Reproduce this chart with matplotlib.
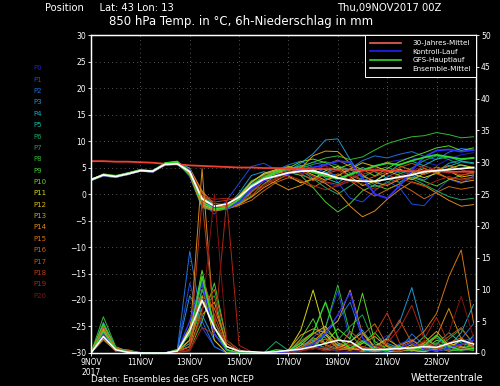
import matplotlib
matplotlib.use('Agg')
import matplotlib.pyplot as plt
from matplotlib.lines import Line2D
import numpy as np

# 12-hourly forecast steps, days after 09NOV2017 00Z
STEP_DAYS = 0.5
N_STEPS = 32

# 850 hPa temperature (degC), ensemble members P0..P20
temp_members = [
    [2.6, 3.4, 3.1, 3.9, 4.5, 4.1, 5.5, 5.9, 3.2, -2.6, -3.1, -2.7, -1.2, 1.2, 3.1, 3.9, 4.8, 4.2, 3.3, 2.2, 1.4, 2.6, 4.1, 5.3, 6.0, 6.4, 6.9, 6.1, 5.4, 6.6, 7.4, 7.8],
    [2.5, 3.7, 3.4, 3.6, 4.6, 4.0, 5.8, 6.0, 4.1, -1.6, -3.8, -1.2, 2.0, 5.2, 5.8, 4.6, 3.8, 5.1, 6.0, 5.4, 2.2, -0.8, -1.5, 0.6, 2.4, 1.2, -1.9, -2.2, 0.5, 2.8, 2.0, 3.4],
    [2.7, 3.5, 3.2, 3.8, 4.3, 4.4, 5.4, 5.6, 4.6, -0.5, -2.8, -2.2, -0.6, 2.1, 3.8, 4.5, 5.5, 6.2, 5.0, 4.1, 3.5, 4.8, 6.3, 7.2, 6.8, 7.5, 8.0, 7.1, 6.5, 7.9, 8.6, 8.3],
    [2.8, 3.6, 3.4, 4.0, 4.4, 4.2, 5.7, 5.5, 3.8, -1.9, -2.9, -2.4, 0.2, 3.5, 4.2, 3.6, 4.4, 5.8, 7.6, 10.2, 10.4, 6.5, 2.9, 1.8, 3.2, 4.4, 3.5, 2.6, 4.2, 5.8, 6.4, 6.9],
    [2.6, 3.5, 3.3, 3.9, 4.5, 4.3, 5.6, 5.8, 4.9, 0.2, -2.4, -2.5, -1.5, 0.8, 2.6, 3.4, 4.0, 3.6, 2.8, 3.9, 5.2, 4.6, 3.3, 2.5, 3.9, 5.6, 6.2, 5.3, 4.5, 5.2, 6.1, 5.7],
    [2.7, 3.7, 3.3, 3.7, 4.3, 4.5, 5.5, 5.7, 4.2, -1.2, -2.6, -2.9, -1.8, 0.5, 3.2, 4.1, 4.6, 5.4, 4.8, 3.0, 2.1, 3.8, 5.0, 4.2, 3.0, 2.2, 3.6, 5.4, 6.6, 7.0, 6.2, 5.9],
    [2.6, 3.6, 3.2, 3.8, 4.4, 4.2, 5.6, 5.9, 3.6, -2.2, -3.0, -2.6, -0.9, 1.8, 3.4, 4.3, 5.1, 4.5, 2.9, 1.2, 0.0, 1.5, 3.1, 4.4, 5.1, 4.0, 2.9, 1.8, 0.6, -0.5, -1.1, -0.8],
    [2.7, 3.5, 3.4, 3.9, 4.5, 4.3, 5.7, 5.6, 4.4, -0.8, -2.7, -2.3, -0.2, 2.5, 3.6, 3.1, 3.9, 4.8, 5.6, 6.1, 5.4, 4.0, 2.6, 1.3, 2.1, 3.8, 4.9, 6.3, 7.2, 6.5, 5.4, 4.8],
    [2.5, 3.4, 3.3, 3.8, 4.6, 4.4, 5.8, 6.1, 3.4, -2.5, -3.2, -2.8, -1.4, 1.0, 2.8, 4.0, 4.7, 5.2, 6.0, 6.8, 7.2, 6.5, 7.0, 8.3, 9.5, 10.2, 10.8, 11.0, 11.6, 11.2, 10.6, 10.8],
    [2.8, 3.6, 3.1, 3.7, 4.3, 4.1, 5.5, 5.8, 4.7, -0.3, -2.5, -2.7, -1.9, -0.4, 1.9, 3.5, 4.2, 3.5, 1.2, -1.5, -3.4, -1.8, 0.6, 1.7, 0.9, 1.9, 3.2, 2.4, 1.5, 2.7, 3.5, 4.1],
    [2.6, 3.8, 3.5, 4.0, 4.6, 4.3, 5.9, 6.2, 4.0, -1.4, -2.9, -2.5, -0.8, 1.6, 3.0, 3.8, 4.9, 6.1, 6.6, 5.9, 4.8, 5.6, 4.6, 3.4, 4.8, 6.1, 7.0, 7.8, 8.7, 9.1, 8.2, 8.7],
    [2.7, 3.6, 3.3, 3.8, 4.4, 4.2, 5.6, 5.7, 4.3, -1.0, -2.6, -2.4, -0.5, 2.2, 3.9, 4.6, 3.4, 2.1, 2.8, 4.4, 5.2, 3.3, 1.6, 2.4, 3.9, 4.7, 3.8, 3.1, 3.9, 4.8, 5.5, 5.0],
    [2.6, 3.5, 3.2, 3.9, 4.5, 4.3, 5.6, 5.8, 3.9, -2.0, -2.9, -2.2, -0.4, 2.3, 3.7, 4.4, 5.2, 4.7, 3.6, 2.6, 3.4, 4.7, 5.9, 5.2, 4.4, 3.5, 2.7, 3.9, 5.1, 4.3, 3.2, 3.6],
    [2.8, 3.7, 3.3, 3.7, 4.4, 4.4, 5.5, 5.6, 4.8, 0.6, -2.2, -2.6, -2.0, -0.6, 1.2, 2.5, 3.8, 4.9, 7.2, 8.1, 8.0, 5.8, 3.6, 2.2, 1.6, 2.8, 4.0, 4.8, 4.1, 2.9, 2.2, 2.6],
    [2.6, 3.6, 3.4, 3.8, 4.3, 4.2, 5.7, 5.9, 3.7, -2.3, -3.1, -2.9, -1.6, 0.9, 2.7, 2.0, 0.8, 1.6, 3.0, 2.0, 0.4, -2.3, -4.3, -3.2, -1.0, 0.8, 2.3, 1.6, 0.2, -1.2, -2.3, -2.0],
    [2.7, 3.5, 3.2, 3.9, 4.5, 4.3, 5.6, 5.7, 4.5, -0.6, -2.7, -2.8, -2.2, 0.3, 2.4, 3.7, 4.4, 5.0, 4.2, 5.5, 6.4, 5.2, 4.3, 5.1, 6.0, 5.3, 4.5, 3.7, 4.5, 5.4, 4.6, 4.0],
    [2.6, 3.4, 3.1, 3.8, 4.4, 4.1, 5.4, 5.6, 4.6, 0.4, -1.8, -2.0, -2.1, -1.2, 0.6, 2.2, 3.1, 2.4, 1.2, 2.6, 3.8, 2.5, 0.9, -0.4, 0.8, 1.9, 0.6, -0.9, 0.3, 1.4, 0.9, 1.3],
    [2.7, 3.6, 3.3, 3.8, 4.4, 4.3, 5.6, 5.7, 4.1, -1.3, -2.6, -2.4, -1.0, 1.5, 3.3, 4.2, 4.8, 3.9, 2.5, 3.8, 4.5, 3.6, 2.5, 3.3, 4.2, 5.0, 5.8, 4.9, 3.8, 3.0, 2.8, 3.2],
    [2.6, 3.5, 3.3, 3.9, 4.5, 4.2, 5.7, 5.8, 4.4, -0.4, -1.5, -1.2, -0.6, 0.4, 1.8, 3.0, 4.1, 4.4, 3.4, 2.3, 1.8, 2.9, 3.7, 4.3, 3.6, 2.8, 3.5, 4.4, 5.0, 4.2, 3.6, 3.9],
    [2.7, 3.7, 3.4, 3.7, 4.3, 4.4, 5.5, 5.6, 4.7, -0.2, -1.0, -0.8, -1.3, -0.2, 1.5, 2.8, 3.5, 2.6, 1.6, 0.8, 1.6, 2.4, 1.9, 0.9, 1.8, 3.0, 2.2, 1.4, 2.5, 3.3, 2.6, 2.9],
    [2.6, 3.5, 3.2, 3.8, 4.4, 4.3, 5.6, 5.7, 4.5, -1.0, -2.2, -1.9, -1.1, 0.8, 2.4, 3.6, 4.3, 3.7, 4.6, 5.3, 4.4, 3.2, 4.1, 5.0, 4.1, 3.3, 4.4, 5.2, 4.6, 3.9, 4.3, 4.5],
]

# 6h precipitation (mm), ensemble members P0..P20
prec_members = [
    [0, 3.5, 0.6, 0.3, 0, 0, 0, 0.3, 2, 9, 3, 0.3, 0, 0, 0, 0, 0, 0.5, 1.2, 0.8, 0.2, 0, 0.3, 1.5, 2.8, 0.6, 0, 0.4, 1.2, 0.5, 0.2, 0.8],
    [0, 2.0, 0.4, 0, 0, 0, 0, 0.5, 11, 4, 1, 0, 0, 0, 0, 0, 0.2, 0.8, 2.5, 4.0, 9.8, 2.0, 0.5, 0.2, 0.6, 1.4, 2.2, 0.8, 0.3, 0.6, 1.8, 2.4],
    [0, 4.2, 0.8, 0.2, 0, 0, 0, 0.6, 16, 5, 1, 0, 0, 0, 0, 0, 0.1, 0.4, 1.6, 3.2, 5.1, 8.0, 2.4, 0.3, 0.1, 0.5, 3.0, 1.2, 0.4, 0.8, 2.2, 4.6],
    [0, 3.0, 0.5, 0.4, 0.1, 0, 0, 0.4, 9, 6, 2, 0, 0, 0, 0, 0, 0, 0.6, 1.0, 0.5, 0.8, 1.8, 3.6, 0.8, 2.4, 4.8, 10.3, 2.8, 0.6, 1.2, 0.5, 2.8],
    [0, 2.6, 0.3, 0.2, 0, 0, 0, 0.2, 3, 10, 4, 0.5, 0.1, 0, 0, 0, 0.2, 1.2, 2.0, 0.6, 1.4, 0.8, 0.2, 0.6, 1.5, 0.8, 0.3, 1.6, 2.4, 1.0, 3.2, 7.6],
    [0, 4.8, 0.9, 0.3, 0, 0, 0, 0.3, 1.5, 8, 5, 1, 0.2, 0, 0, 0, 0, 0.3, 0.8, 2.8, 1.2, 0.6, 0.4, 0.2, 0.6, 1.0, 0.4, 0.2, 1.4, 3.2, 1.6, 0.9],
    [0, 3.3, 0.6, 0.5, 0, 0, 0, 0.4, 4, 12, 3, 0.5, 0, 0, 0, 1.8, 0.4, 0.6, 1.5, 0.9, 0.4, 1.2, 2.0, 0.9, 0.3, 0.2, 0.6, 1.4, 0.8, 0.3, 0.5, 1.1],
    [0, 2.4, 0.4, 0.1, 0, 0, 0, 0.2, 2, 7, 9, 1, 0.3, 0, 0, 0, 0, 0.4, 1.8, 3.5, 2.0, 4.2, 6.0, 1.4, 0.5, 1.1, 0.6, 0.3, 0.8, 2.2, 3.8, 1.5],
    [0, 5.7, 1.0, 0.2, 0, 0, 0, 0.3, 1, 10, 5, 0.5, 0, 0, 0, 0, 0.3, 1.5, 0.6, 4.0, 10.7, 3.0, 0.8, 0.4, 1.2, 0.6, 0.3, 0.8, 1.6, 0.6, 0.4, 0.8],
    [0, 3.8, 0.5, 0.4, 0, 0, 0, 0.1, 0.5, 5, 11, 2, 0.4, 0, 0, 0, 0.2, 2.2, 5.4, 1.2, 0.4, 0.8, 1.5, 3.2, 1.0, 0.4, 0.7, 2.6, 1.0, 0.3, 0.6, 0.4],
    [0, 4.5, 0.7, 0.2, 0, 0, 0, 0.4, 3, 13, 4, 0.5, 0, 0, 0, 0, 0.1, 0.6, 2.4, 1.6, 3.8, 2.2, 9.4, 1.8, 0.6, 0.3, 1.0, 0.5, 2.0, 1.4, 0.8, 1.2],
    [0, 2.8, 0.4, 0.3, 0, 0, 0, 0.3, 2, 9, 3, 0.5, 0, 0, 0, 0, 0.4, 3.6, 9.9, 3.0, 0.6, 1.8, 3.2, 0.8, 0.2, 0.5, 1.3, 0.6, 0.3, 0.8, 2.0, 1.0],
    [0, 3.6, 0.5, 0.1, 0, 0, 0, 0.5, 4, 11, 2, 0, 0, 0, 0, 0, 0, 1.2, 3.0, 4.2, 1.6, 0.8, 0.4, 1.1, 2.2, 0.9, 0.4, 0.2, 0.6, 1.5, 1.0, 0.6],
    [0, 2.2, 0.3, 0.2, 0, 0, 0, 0.2, 1, 6, 8, 1, 0.2, 0, 0, 0, 0.5, 2.8, 3.8, 3.2, 1.2, 0.6, 1.5, 2.6, 1.0, 0.3, 0.6, 1.6, 3.4, 1.2, 0.5, 0.9],
    [0, 3.9, 0.6, 0.3, 0, 0, 0, 0.4, 2, 29, 4, 0.5, 0, 0, 0, 0, 0.2, 0.9, 1.8, 3.6, 5.0, 9.9, 3.0, 1.0, 0.4, 1.2, 2.0, 0.8, 2.6, 7.0, 2.2, 0.8],
    [0, 3.1, 0.4, 0.2, 0, 0, 0, 0.3, 1, 9, 7, 1.5, 0.3, 0, 0, 0, 0, 0.5, 1.4, 2.2, 0.8, 0.4, 1.0, 0.6, 0.3, 0.8, 1.8, 3.4, 6.2, 12.0, 16.2, 4.8],
    [0, 4.1, 0.8, 0.4, 0, 0, 0, 0.2, 0.5, 7, 10, 2, 0.5, 0, 0, 0, 0.3, 1.9, 3.2, 2.4, 1.0, 0.5, 2.8, 4.6, 1.2, 0.4, 0.8, 1.4, 0.5, 1.6, 2.4, 1.0],
    [0, 2.5, 0.3, 0.2, 0, 0, 0, 0.3, 1, 12, 6, 1, 0.2, 0, 0, 0, 0, 0.7, 2.2, 1.4, 0.6, 3.4, 1.8, 0.6, 2.0, 5.2, 1.6, 0.6, 1.2, 2.6, 4.0, 1.4],
    [0, 3.4, 0.5, 0.3, 0, 0, 0, 0.2, 0.5, 24, 5, 1, 0.3, 0, 0, 0, 0.1, 0.5, 1.0, 0.6, 2.4, 1.2, 0.5, 3.0, 6.3, 1.6, 0.6, 1.8, 0.8, 0.4, 1.2, 2.0],
    [0, 2.9, 0.4, 0.1, 0, 0, 0, 0.1, 0.3, 4, 3, 24, 1.2, 0.2, 0, 0, 0, 0.4, 0.8, 0.3, 0.6, 1.4, 0.9, 0.4, 1.6, 3.8, 7.5, 2.2, 5.6, 1.4, 0.6, 1.0],
    [0, 2.7, 0.3, 0.2, 0, 0, 0, 0.2, 0.5, 6, 25, 2, 0.4, 0, 0, 0, 0, 0.3, 0.6, 1.0, 0.4, 0.2, 0.5, 1.2, 0.6, 0.3, 0.9, 2.0, 1.0, 3.2, 8.9, 2.4],
]

temp_control = [2.6, 3.5, 3.2, 3.8, 4.4, 4.2, 5.6, 5.8, 4.5, -1.5, -2.5, -2.8, -1.5, 1.0, 2.5, 3.5, 3.8, 4.5, 5.0, 5.5, 6.2, 6.0, 3.0, 0.0, -0.8, 1.5, 4.5, 7.0, 8.2, 8.4, 8.0, 8.3]
temp_oper = [2.6, 3.6, 3.3, 3.9, 4.5, 4.3, 5.8, 6.0, 4.3, -1.5, -2.8, -2.6, -1.0, 1.6, 3.0, 4.2, 5.0, 4.8, 4.1, 3.4, 2.9, 3.7, 4.5, 5.3, 5.8, 5.5, 6.3, 6.9, 7.4, 7.0, 6.6, 6.8]
temp_mean = [2.7, 3.6, 3.3, 3.8, 4.4, 4.3, 5.6, 5.7, 4.2, -0.9, -2.3, -1.9, -0.6, 1.4, 2.8, 3.4, 4.0, 4.3, 4.4, 3.8, 3.0, 2.6, 2.4, 2.4, 2.8, 3.2, 3.6, 4.2, 4.4, 4.6, 4.8, 5.0]
temp_clim = [6.2, 6.2, 6.1, 6.1, 6.0, 5.9, 5.7, 5.6, 5.4, 5.3, 5.2, 5.1, 5.0, 5.0, 4.9, 4.9, 4.8, 4.8, 4.7, 4.7, 4.6, 4.6, 4.5, 4.5, 4.4, 4.4, 4.3, 4.3, 4.3, 4.2, 4.2, 4.2]

prec_control = [0, 3.0, 0.5, 0.2, 0, 0, 0, 0.3, 5, 11, 3, 0.4, 0, 0, 0, 0, 0.2, 0.6, 1.4, 3.0, 6.0, 9.5, 2.4, 0.6, 0.3, 0.8, 1.6, 0.6, 0.3, 0.8, 1.4, 2.0]
prec_oper = [0, 3.4, 0.6, 0.2, 0, 0, 0, 0.4, 3, 12, 4, 0.5, 0, 0, 0, 0.5, 0.3, 1.6, 3.2, 8.0, 2.4, 0.8, 1.8, 0.6, 0.4, 1.0, 0.5, 1.2, 2.8, 1.0, 0.5, 0.7]
prec_mean = [0, 2.6, 0.5, 0.1, 0, 0, 0, 0.3, 3.5, 8.3, 4.0, 1.0, 0.3, 0.2, 0.1, 0.2, 0.4, 0.6, 1.0, 1.5, 2.0, 1.8, 0.6, 0.5, 0.6, 0.7, 0.8, 1.0, 0.9, 1.5, 2.0, 1.4]

member_labels = ['P%d' % i for i in range(21)]
member_colors = ['#2020c0', '#2048e0', '#2070dc', '#2094d4', '#18acc0', '#1ab8a8',
                 '#1aa868', '#1aa050', '#34b834', '#48c834', '#5cd824', '#d4d418',
                 '#dcb814', '#dc9c14', '#dc8816', '#d27414', '#cc6414', '#c65214',
                 '#be3816', '#b02414', '#861212']

x_tick_days = [0, 2, 4, 6, 8, 10, 12, 14]
x_tick_labels = ['9NOV\n2017', '11NOV', '13NOV', '15NOV', '17NOV', '19NOV', '21NOV', '23NOV']

days = np.arange(N_STEPS) * STEP_DAYS

fig = plt.figure(figsize=(5, 3.86), dpi=100, facecolor='black')
ax = fig.add_axes([0.182, 0.0855, 0.77, 0.8238], facecolor='black')
ax2 = ax.twinx()

# dotted grid
grid_style = dict(color='#a0a0a0', lw=0.5, linestyle=(0, (1, 5)))
for d in x_tick_days[1:]:
    ax.axvline(d, **grid_style)
for v in range(-25, 30, 5):
    ax.axhline(v, **grid_style)

# ensemble members: temperature and precipitation
for tm, pm, c in zip(temp_members, prec_members, member_colors):
    ax.plot(days, tm, color=c, lw=0.7)
    ax2.plot(days, pm, color=c, lw=0.7)

ax.plot(days, temp_control, color='#3030ff', lw=1.3)
ax2.plot(days, prec_control, color='#3030ff', lw=1.0)
ax.plot(days, temp_oper, color='#30d830', lw=1.3)
ax2.plot(days, prec_oper, color='#30d830', lw=1.0)
ax.plot(days, temp_clim, color='#f04030', lw=1.3)
ax.plot(days, temp_mean, color='white', lw=1.3)
ax2.plot(days, prec_mean, color='white', lw=1.1)

ax.set_xlim(0, 15.6)
ax.set_ylim(-30, 30)
ax2.set_ylim(0, 50)

ax.set_yticks(np.arange(-30, 31, 5))
ax2.set_yticks(np.arange(0, 51, 5))
ax.set_xticks(x_tick_days)
ax.set_xticklabels(x_tick_labels)

for a in (ax, ax2):
    for s in a.spines.values():
        s.set_color('white')
        s.set_linewidth(0.9)
    a.tick_params(colors='white', labelsize=5.5, length=2, width=0.6, pad=1.5)

# legend box
handles = [Line2D([], [], color='#f06060', lw=1.2),
           Line2D([], [], color='#2020ff', lw=1.2),
           Line2D([], [], color='#30d830', lw=1.2),
           Line2D([], [], color='#e0e0e0', lw=1.2)]
labels = ['30-Jahres-Mittel', 'Kontroll-Lauf', 'GFS-Hauptlauf', 'Ensemble-Mittel']
leg = ax2.legend(handles, labels, loc='upper right', bbox_to_anchor=(1, 1),
                 borderaxespad=0, fontsize=5.2, handlelength=4.2, labelspacing=0.35,
                 fancybox=False, facecolor='black', edgecolor='white',
                 framealpha=1, borderpad=0.7, handletextpad=1.6)
leg.get_frame().set_linewidth(0.7)
for t in leg.get_texts():
    t.set_color('white')

# member colour key on the left
for i, (lab, c) in enumerate(zip(member_labels, member_colors)):
    fig.text(0.066, 1 - (68.3 + i * 11.37) / 386, lab, color=c, fontsize=5,
             va='center', ha='left')

fig.text(0.09, 1 - 8 / 386, 'Position     Lat: 43 Lon: 13', color='white',
         fontsize=7.2, va='center', ha='left')
fig.text(0.675, 1 - 8 / 386, 'Thu,09NOV2017 00Z', color='white',
         fontsize=7.2, va='center', ha='left')
fig.text(0.483, 1 - 22 / 386, '850 hPa Temp. in °C, 6h-Niederschlag in mm',
         color='white', fontsize=8.5, va='center', ha='center')
fig.text(0.182, 1 - 379 / 386, 'Daten: Ensembles des GFS von NCEP', color='white',
         fontsize=6.3, va='center', ha='left')
fig.text(0.966, 1 - 378 / 386, 'Wetterzentrale', color='white',
         fontsize=7, va='center', ha='right')

fig.savefig('out.png', dpi=100, facecolor='black')
